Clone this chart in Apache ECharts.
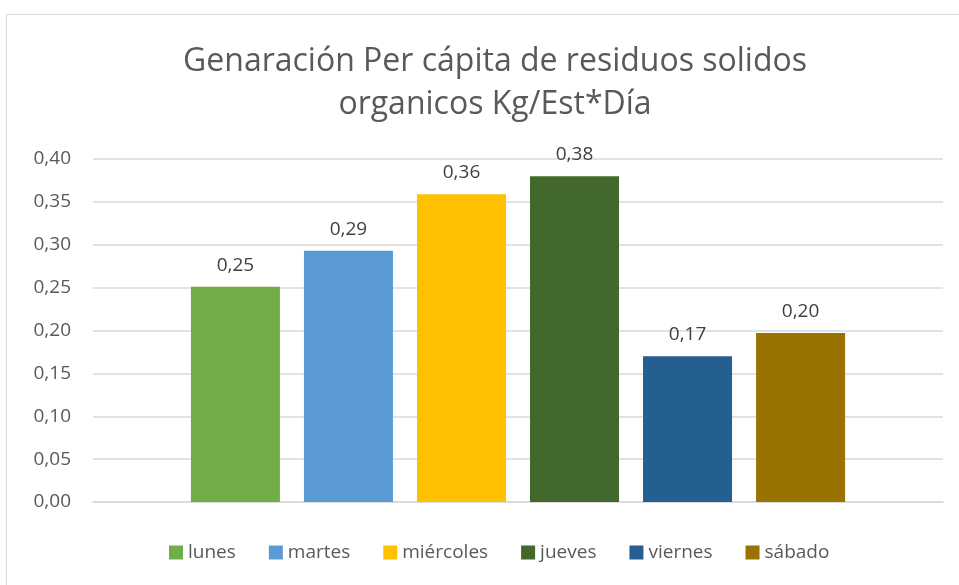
<!DOCTYPE html>
<html>
<head>
<meta charset="utf-8">
<script src="https://cdn.jsdelivr.net/npm/echarts@6/dist/echarts.min.js"></script>
<style>
  html, body { margin: 0; padding: 0; background: #fff; }
  #frame { position: absolute; left: 6px; top: 14px; width: 1000px; height: 600px; border: 1px solid #d9d9d9; }
  #chart { position: absolute; left: 0; top: 0; width: 959px; height: 585px; }
</style>
</head>
<body>
<div id="frame"></div>
<div id="chart"></div>
<script>
const days = ["lunes", "martes", "miércoles", "jueves", "viernes", "sábado"];
const values = [0.251, 0.293, 0.359, 0.380, 0.170, 0.197];
const colors = ["#70AD47", "#5B9BD5", "#FFC000", "#43682B", "#255E91", "#997300"];
const titleText = "Genaración Per cápita de residuos solidos\norganicos Kg/Est*Día";

const font = "Open Sans";
const myChart = echarts.init(document.getElementById("chart"));

const series = days.map(function (d, i) {
  return {
    name: d,
    type: "bar",
    data: [values[i]],
    barWidth: 89,
    barGap: "27%",
    itemStyle: { color: colors[i] },
    label: {
      show: true,
      position: "top",
      distance: 12,
      color: "#404040",
      fontSize: 19,
      fontFamily: font,
      formatter: function (p) { return p.value.toFixed(2).replace(".", ","); }
    }
  };
});

const option = {
  animation: false,
  title: {
    text: titleText,
    left: 490,
    textAlign: "center",
    top: 35,
    textStyle: {
      color: "#595959",
      fontSize: 32,
      fontWeight: "normal",
      fontFamily: font,
      lineHeight: 43
    }
  },
  legend: {
    data: days,
    bottom: 18,
    left: 164,
    itemWidth: 14,
    itemHeight: 14,
    itemGap: 33,
    icon: "rect",
    textStyle: { color: "#595959", fontSize: 19, fontFamily: font }
  },
  grid: { left: 93, right: 16, top: 159, bottom: 83 },
  xAxis: {
    type: "category",
    data: [""],
    axisLine: { lineStyle: { color: "#d9d9d9", width: 1.5 } },
    axisTick: { show: false },
    axisLabel: { show: false }
  },
  yAxis: {
    type: "value",
    min: 0,
    max: 0.4,
    interval: 0.05,
    axisLine: { show: false },
    axisTick: { show: false },
    splitLine: { lineStyle: { color: "#d9d9d9", width: 1.5 } },
    axisLabel: {
      color: "#595959",
      fontSize: 19,
      fontFamily: font,
      margin: 22,
      formatter: function (v) { return v.toFixed(2).replace(".", ","); }
    }
  },
  series: series
};

myChart.setOption(option);
</script>
</body>
</html>
